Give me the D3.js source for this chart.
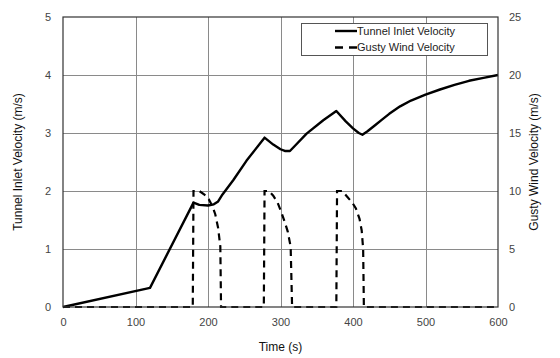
<!DOCTYPE html>
<html>
<head>
<meta charset="utf-8">
<script src="https://cdn.jsdelivr.net/npm/d3@7"></script>
<style>
  html, body { margin: 0; padding: 0; background: #fff; }
  svg { display: block; font-family: "Liberation Sans", Arial, sans-serif; }
</style>
</head>
<body>
<svg id="chart" width="560" height="358"></svg>
<script>
// ---- data ----
const tunnelTime = [0, 120, 180, 188, 200, 208, 214, 220, 235, 253, 278, 290, 300, 306, 313, 320, 336, 359, 377, 390, 400, 408, 413, 420, 430, 440, 450, 465, 480, 500, 520, 540, 560, 580, 600];
const tunnelVel  = [0, 0.33, 1.80, 1.76, 1.75, 1.77, 1.82, 1.94, 2.19, 2.52, 2.92, 2.80, 2.72, 2.69, 2.69, 2.78, 2.99, 3.22, 3.38, 3.20, 3.08, 3.00, 2.97, 3.03, 3.13, 3.23, 3.33, 3.46, 3.56, 3.66, 3.75, 3.83, 3.90, 3.95, 4.00];

const gustTime = [0, 179, 180, 188, 195, 201, 206, 210, 214, 217, 218, 277, 278, 284, 290, 296, 301, 306, 310, 314, 316, 377, 378, 385, 392, 399, 404, 409, 412, 414, 415, 600];
const gustVel  = [0, 0, 10, 10, 9.7, 9.3, 8.7, 8.0, 6.8, 5.2, 0, 0, 10, 10, 9.6, 9.0, 8.2, 7.3, 6.5, 5.2, 0, 0, 10, 10, 9.5, 9.0, 8.5, 7.6, 6.6, 5.0, 0, 0];

const xTicks = [0, 100, 200, 300, 400, 500, 600];
const yLeftTicks = [0, 1, 2, 3, 4, 5];
const yRightTicks = [0, 5, 10, 15, 20, 25];
const legendLabels = ["Tunnel Inlet Velocity", "Gusty Wind Velocity"];

// ---- layout ----
const svg = d3.select("#chart");
const L = 63, R = 498, T = 17, B = 307;

const x = d3.scaleLinear().domain([0, 600]).range([L, R]);
const yL = d3.scaleLinear().domain([0, 5]).range([B, T]);
const yR = d3.scaleLinear().domain([0, 25]).range([B, T]);

// gridlines
const grid = svg.append("g");
grid.selectAll("line.v").data(xTicks.slice(1, -1)).join("line")
  .attr("x1", d => Math.round(x(d)) + 0.5).attr("x2", d => Math.round(x(d)) + 0.5)
  .attr("y1", T).attr("y2", B)
  .attr("stroke", "#8a8a8a").attr("stroke-width", 1);
grid.selectAll("line.h").data(yLeftTicks.slice(1, -1)).join("line")
  .attr("y1", d => Math.round(yL(d)) + 0.5).attr("y2", d => Math.round(yL(d)) + 0.5)
  .attr("x1", L).attr("x2", R)
  .attr("stroke", "#8a8a8a").attr("stroke-width", 1);

// axes (labels only)
const tickStyle = g => {
  g.select(".domain").remove();
  g.selectAll(".tick line").remove();
  g.selectAll(".tick text").attr("fill", "#444").style("font-size", "11px");
};
const fmt = d3.format("d");
svg.append("g").attr("transform", `translate(0,${B})`)
  .call(d3.axisBottom(x).tickValues(xTicks).tickFormat(fmt).tickSize(0).tickPadding(11))
  .call(tickStyle);
svg.append("g").attr("transform", `translate(${L},0)`)
  .call(d3.axisLeft(yL).tickValues(yLeftTicks).tickFormat(fmt).tickSize(0).tickPadding(12))
  .call(tickStyle);
svg.append("g").attr("transform", `translate(${R},0)`)
  .call(d3.axisRight(yR).tickValues(yRightTicks).tickFormat(fmt).tickSize(0).tickPadding(11))
  .call(tickStyle);

// data lines
const tunnel = tunnelTime.map((t, i) => [t, tunnelVel[i]]);
const gust = gustTime.map((t, i) => [t, gustVel[i]]);

svg.append("path").datum(gust)
  .attr("fill", "none").attr("stroke", "#000").attr("stroke-width", 2.2)
  .attr("stroke-dasharray", "7,5")
  .attr("d", d3.line().x(d => x(d[0])).y(d => yR(d[1])));

svg.append("path").datum(tunnel)
  .attr("fill", "none").attr("stroke", "#000").attr("stroke-width", 2.4)
  .attr("stroke-linejoin", "round")
  .attr("d", d3.line().x(d => x(d[0])).y(d => yL(d[1])));

// plot border
svg.append("rect").attr("x", L).attr("y", T).attr("width", R - L).attr("height", B - T)
  .attr("fill", "none").attr("stroke", "#333").attr("stroke-width", 1.2);

// legend
const lg = svg.append("g");
lg.append("rect").attr("x", 301.5).attr("y", 23.5).attr("width", 186).attr("height", 32)
  .attr("fill", "#fff").attr("stroke", "#555").attr("stroke-width", 1);
lg.append("line").attr("x1", 335).attr("x2", 357).attr("y1", 31).attr("y2", 31)
  .attr("stroke", "#000").attr("stroke-width", 2.4);
lg.append("line").attr("x1", 335).attr("x2", 357).attr("y1", 47.5).attr("y2", 47.5)
  .attr("stroke", "#000").attr("stroke-width", 2.4).attr("stroke-dasharray", "8,6");
lg.selectAll("text").data(legendLabels).join("text")
  .attr("x", 357).attr("y", (d, i) => 31 + i * 16.5).attr("dy", "0.35em")
  .attr("fill", "#222").style("font-size", "11px").text(d => d);

// axis titles
svg.append("text").attr("x", (L + R) / 2).attr("y", 351).attr("text-anchor", "middle")
  .attr("fill", "#111").style("font-size", "12px").text("Time (s)");
svg.append("text").attr("transform", `translate(22,${(T + B) / 2}) rotate(-90)`)
  .attr("text-anchor", "middle").attr("fill", "#111").style("font-size", "12px")
  .text("Tunnel Inlet Velocity (m/s)");
svg.append("text").attr("transform", `translate(538,${(T + B) / 2}) rotate(-90)`)
  .attr("text-anchor", "middle").attr("fill", "#111").style("font-size", "12px")
  .text("Gusty Wind Velocity (m/s)");
</script>
</body>
</html>
